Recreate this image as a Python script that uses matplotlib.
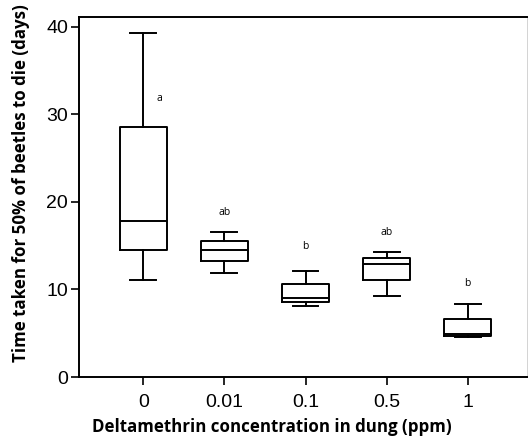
import matplotlib
matplotlib.use("Agg")
import matplotlib.pyplot as plt

"""Data read off the reference box plot."""
groups = ["0", "0.01", "0.1", "0.5", "1"]
whisk_lo = [11.1, 11.9, 8.1, 9.3, 4.55]
q1 = [14.5, 13.2, 8.55, 11.1, 4.7]
medians = [17.8, 14.5, 9.0, 12.9, 4.9]
q3 = [28.6, 15.5, 10.6, 13.6, 6.6]
whisk_hi = [39.3, 16.6, 12.1, 14.3, 8.35]
letters = ["a", "ab", "b", "ab", "b"]
letter_y = [31.8, 18.8, 14.9, 16.5, 10.7]
letter_dx = [0.2, 0, 0, 0, 0]

stats = []
for i in range(len(groups)):
    stats.append(dict(label=groups[i], whislo=whisk_lo[i], q1=q1[i], med=medians[i],
                      q3=q3[i], whishi=whisk_hi[i], fliers=[]))

fig = plt.figure(figsize=(5.28, 4.41), dpi=100)
ax = fig.add_axes([0.150, 0.145, 0.848, 0.816])

lw = 1.4
ax.bxp(stats, positions=range(1, len(groups) + 1), widths=0.58, showfliers=False,
       boxprops=dict(color="black", linewidth=lw),
       medianprops=dict(color="black", linewidth=lw),
       whiskerprops=dict(color="black", linewidth=lw),
       capprops=dict(color="black", linewidth=lw), capwidths=0.32)

for i in range(len(groups)):
    ax.text(i + 1 + letter_dx[i], letter_y[i], letters[i], ha="center", va="center",
            fontsize=7.5, family="Open Sans")

ax.set_xlim(0.21, 5.73)
ax.set_ylim(0, 41.1)
ax.set_yticks([0, 10, 20, 30, 40])
ax.set_xticklabels(groups)
for lab in ax.get_xticklabels() + ax.get_yticklabels():
    lab.set_family("Liberation Sans")
    lab.set_fontsize(14)
ax.tick_params(length=6, width=1.2, direction="out")
ax.tick_params(axis="x", pad=6)
ax.tick_params(axis="y", pad=2)
for s in ax.spines.values():
    s.set_linewidth(1.4)
ax.spines["right"].set_linewidth(0.6)
ax.spines["right"].set_color("#cccccc")

ax.set_xlabel("Deltamethrin concentration in dung (ppm)", fontsize=12.2,
              fontweight="bold", family="Open Sans")
ax.set_ylabel("Time taken for 50% of beetles to die (days)", fontsize=12.2,
              fontweight="bold", family="Open Sans")
ax.xaxis.set_label_coords(0.431, -0.115)
ax.yaxis.set_label_coords(-0.11, 0.539)

plt.savefig("out.png", dpi=100)
